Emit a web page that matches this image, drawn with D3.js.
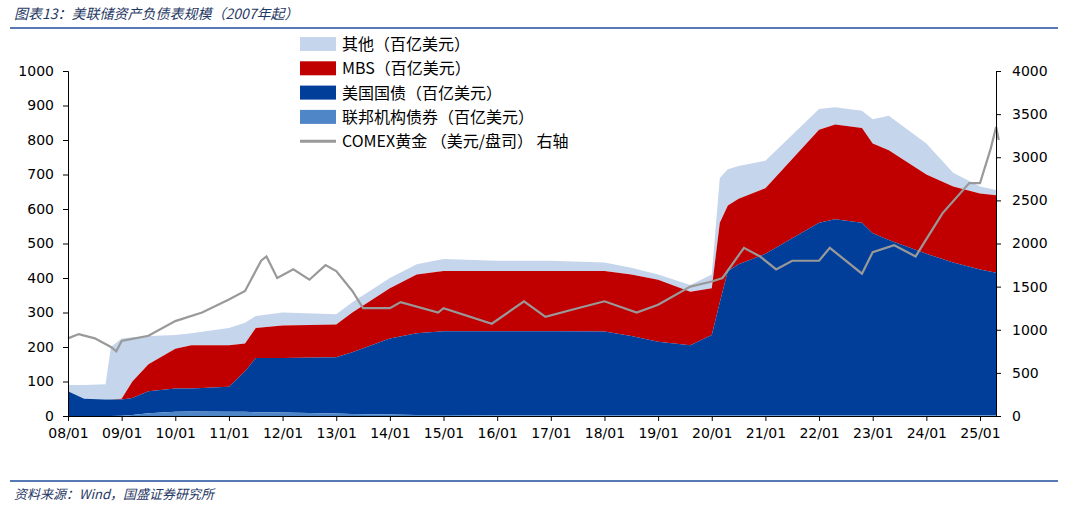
<!DOCTYPE html>
<html><head><meta charset="utf-8">
<script src="https://cdn.jsdelivr.net/npm/d3@7"></script>
<style>
body{margin:0;background:#fff;font-family:"Noto Sans CJK SC","DejaVu Sans",sans-serif;}
text{fill:#000;}
</style></head>
<body><div id="chart"></div>
<script>
// dates as fractional years
var dates =    [2008.0,2008.3,2008.7,2008.8,2009.0,2009.2,2009.5,2010.0,2010.3,2011.0,2011.3,2011.5,2012.0,2013.0,2013.3,2014.0,2014.5,2015.0,2016.0,2017.0,2018.0,2018.5,2019.0,2019.6,2020.0,2020.15,2020.3,2020.5,2021.0,2022.0,2022.3,2022.8,2023.0,2023.3,2024.0,2024.5,2025.0,2025.3];
// cumulative tops of each layer (百亿美元)
var agencyTop = [0,0,0,0,1,3,8,12,13,12,12,11,10,7,6,4,3,3,2,2,2,2,2,2,2,2,2,2,2,2,2,2,2,2,2,2,2,2];
var treasuryTop = [72,50,48,48,48,52,72,80,80,85,130,168,168,170,185,225,240,246,246,246,245,232,215,205,235,330,420,440,470,560,570,560,530,510,470,445,425,415];
var mbsTop = [72,50,48,48,50,100,150,195,205,205,210,255,262,265,300,370,410,420,420,420,420,410,395,360,370,560,610,630,660,830,845,835,790,770,700,665,645,640];
var otherTop = [90,90,92,200,225,228,232,235,240,255,270,290,300,295,330,400,440,455,450,450,445,430,410,380,410,690,715,725,740,890,895,885,860,870,790,705,665,655];

var goldDates = [2008.0,2008.2,2008.5,2008.8,2008.9,2009.0,2009.5,2010.0,2010.5,2011.0,2011.3,2011.6,2011.7,2011.9,2012.2,2012.5,2012.8,2013.0,2013.3,2013.5,2014.0,2014.2,2014.9,2015.0,2015.9,2016.5,2016.9,2017.5,2018.0,2018.6,2019.0,2019.6,2020.0,2020.2,2020.6,2020.9,2021.2,2021.5,2022.0,2022.2,2022.8,2023.0,2023.4,2023.8,2024.0,2024.3,2024.8,2025.0,2025.2,2025.3,2025.35];
var gold = [900,950,900,800,750,870,930,1100,1200,1350,1450,1800,1850,1600,1700,1580,1750,1680,1450,1250,1250,1320,1200,1250,1070,1330,1150,1250,1330,1200,1290,1500,1560,1600,1950,1850,1700,1800,1800,1950,1650,1900,1980,1850,2050,2350,2700,2700,3100,3350,3200];

var leftTicks = [0,100,200,300,400,500,600,700,800,900,1000];
var rightTicks = [0,500,1000,1500,2000,2500,3000,3500,4000];
var yearTicks = d3.range(2008, 2026);

var legendNames = ["其他（百亿美元）","MBS（百亿美元）","美国国债（百亿美元）","联邦机构债券（百亿美元）","COMEX黄金 （美元/盘司） 右轴"];
var colors = ["#c5d5ec","#c00000","#003e99","#4f86c8","#999999"];

var width = 1065, height = 507;
var svg = d3.select("#chart").append("svg").attr("width", width).attr("height", height);

var x = d3.scaleLinear().domain([2008, 2025]).range([68, 980]);
var yL = d3.scaleLinear().domain([0, 1000]).range([416, 71]);
var yR = d3.scaleLinear().domain([0, 4000]).range([416, 71]);

// header / footer
svg.append("text").attr("x", 14).attr("y", 19).text("图表13：美联储资产负债表规模（2007年起）")
  .style("font-size", "14px").style("font-style", "italic").style("fill", "#1f3864");
svg.append("line").attr("x1", 10).attr("x2", 1058).attr("y1", 28).attr("y2", 28).attr("stroke", "#1f4e9c").attr("stroke-width", 1.5);
svg.append("line").attr("x1", 10).attr("x2", 1058).attr("y1", 481).attr("y2", 481).attr("stroke", "#1f4e9c").attr("stroke-width", 1.5);
svg.append("text").attr("x", 14).attr("y", 499).text("资料来源：Wind，国盛证券研究所")
  .style("font-size", "13px").style("font-style", "italic").style("fill", "#1f3864");

// stacked layers as bands between cumulative tops
var zero = dates.map(function(){return 0});
var bands = [[mbsTop, otherTop, colors[0]], [treasuryTop, mbsTop, colors[1]], [agencyTop, treasuryTop, colors[2]], [zero, agencyTop, colors[3]]];
bands.forEach(function(b){
  var area = d3.area()
    .x(function(d, i){return x(dates[i])})
    .y0(function(d, i){return yL(b[0][i])})
    .y1(function(d, i){return yL(b[1][i])});
  svg.append("path").datum(dates).attr("d", area).attr("fill", b[2]);
});

// gold line
var line = d3.line().x(function(d, i){return x(goldDates[i])}).y(function(d){return yR(d)});
svg.append("path").datum(gold).attr("d", line).attr("fill", "none").attr("stroke", colors[4]).attr("stroke-width", 2.2);

// axes
var fs = "14px", ff = "Verdana, 'DejaVu Sans', sans-serif";
var axL = svg.append("g").attr("transform", "translate(68,0)")
  .call(d3.axisLeft(yL).tickValues(leftTicks).tickSize(5).tickFormat(d3.format("d")));
var axR = svg.append("g").attr("transform", "translate(996,0)")
  .call(d3.axisRight(yR).tickValues(rightTicks).tickSize(5).tickFormat(d3.format("d")));
var axB = svg.append("g").attr("transform", "translate(0,416)")
  .call(d3.axisBottom(x).tickValues(yearTicks).tickSize(5).tickFormat(function(d){return String(d).slice(2) + "/01"}));
[axL, axR, axB].forEach(function(a){
  a.selectAll("text").style("font-size", fs).style("font-family", ff);
  a.selectAll("path,line").attr("stroke", "#000");
});
axL.selectAll("text").attr("x", -14);
axR.selectAll("text").attr("x", 16);
axB.selectAll("text").attr("y", 12);
axB.select("path").attr("d", "M68,0.5H996");

// legend
var lg = svg.selectAll("g.leg").data(legendNames).enter().append("g")
  .attr("transform", function(d, i){return "translate(300," + (44 + i * 24.3) + ")"});
lg.each(function(d, i){
  var g = d3.select(this);
  if (i < 4) g.append("rect").attr("x", 0).attr("y", -7).attr("width", 36).attr("height", 14).attr("fill", colors[i]);
  else g.append("line").attr("x1", 0).attr("x2", 36).attr("y1", 0).attr("y2", 0).attr("stroke", colors[i]).attr("stroke-width", 3);
  g.append("text").attr("x", 42).attr("y", 6).text(d).style("font-size", "16px");
});
</script></body></html>
